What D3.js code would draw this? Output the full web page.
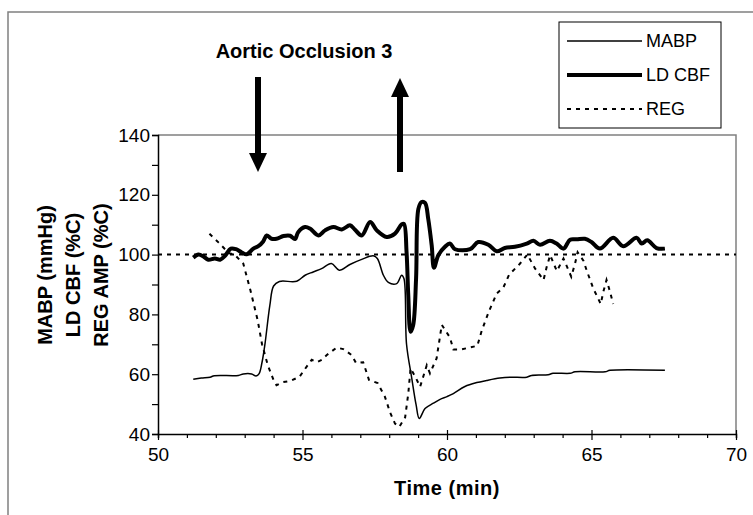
<!DOCTYPE html>
<html>
<head>
<meta charset="utf-8">
<script src="https://cdn.jsdelivr.net/npm/d3@7"></script>
<style>
body { margin: 0; background: #fff; }
text { font-family: "Liberation Sans", Arial, sans-serif; }
</style>
</head>
<body>
<div class="chart"></div>
<script>
// data
var mabp = [[51.22,58.3],[51.5,58.7],[51.8,59],[51.95,59.5],[52.78,59.6],[52.95,60.1],[53.24,60.1],[53.39,59.4],[53.5,60.2],[53.6,64],[53.7,70],[53.87,83],[54.0,89.5],[54.2,91],[54.8,91.1],[55.09,93.1],[55.37,94.2],[55.66,95.3],[56.0,97],[56.27,94.8],[56.64,96.7],[57.05,98.4],[57.45,99.6],[57.59,98.7],[57.8,93.1],[57.97,90.7],[58.26,90.3],[58.43,93.1],[58.51,92],[58.6,70],[58.78,58.7],[58.93,49.8],[59.04,45.2],[59.24,48.5],[59.53,50.3],[59.76,51.6],[60.0,52.5],[60.22,53.5],[60.62,55.9],[61.03,57.2],[61.37,57.9],[61.83,58.7],[62.18,59],[62.76,59],[62.93,59.6],[63.5,59.8],[63.67,60.3],[64.26,60.3],[64.43,60.8],[65.47,60.8],[65.64,61.3],[67.54,61.3]]

var ldcbf = [[51.22,99],[51.4,100],[51.57,99.4],[51.74,98.3],[51.97,98.7],[52.15,98.3],[52.32,99.6],[52.52,102],[52.7,101.8],[52.9,100.7],[53.07,100.1],[53.3,102],[53.47,102.8],[53.64,104.4],[53.76,106.4],[53.93,105.3],[54.1,105.3],[54.34,106.2],[54.57,106.3],[54.74,105.2],[54.85,107.5],[55.09,109.2],[55.26,108.7],[55.55,106.4],[55.78,108.1],[56.07,109.2],[56.36,108.4],[56.64,109.8],[56.8,108.5],[57.05,106.4],[57.34,110.9],[57.57,108.1],[57.91,105.9],[58.2,107],[58.43,110.1],[58.51,110.3],[58.6,100.9],[58.66,86.4],[58.74,74.2],[58.83,76.4],[58.93,92],[59.01,115.3],[59.12,117.6],[59.24,117.3],[59.35,112],[59.47,103.1],[59.55,95.6],[59.7,99.8],[59.93,102.6],[60.1,103.7],[60.28,101.8],[60.8,101.8],[61.08,104.2],[61.43,103.3],[61.72,101.1],[62.0,102.2],[62.35,102.6],[62.76,103.7],[62.99,104.6],[63.22,103.3],[63.56,104.6],[63.79,103.7],[64.03,102],[64.26,105],[64.49,105.1],[64.77,105.3],[65.0,104.2],[65.29,102],[65.75,105.6],[66.1,102.8],[66.56,105.6],[66.74,103.7],[66.93,104.8],[67.25,102.2],[67.54,102]]

var reg = [[51.78,107],[52.1,104],[52.45,100.5],[52.65,100],[52.95,97],[53.2,88],[53.45,78],[53.6,70],[53.8,63],[54.0,58],[54.1,56.3],[54.3,57.3],[54.6,57.8],[54.9,59.2],[55.15,62.6],[55.32,64.8],[55.5,64],[55.67,64.8],[55.84,66.4],[56.18,68.9],[56.41,68.4],[56.7,66.4],[56.85,63.8],[57.1,64],[57.3,58.1],[57.6,57],[57.85,52.5],[58.03,47.2],[58.2,43.5],[58.35,42.4],[58.55,45.5],[58.66,53.5],[58.74,62],[58.93,58.6],[59.07,55.8],[59.3,63],[59.41,60.3],[59.64,65.3],[59.82,76.5],[60.1,72.3],[60.22,68.3],[60.5,68.3],[61.05,69.5],[61.2,74.5],[61.45,81],[61.72,87],[61.95,89],[62.15,93.3],[62.5,96.7],[62.78,100],[63.05,95.3],[63.34,91.5],[63.45,95.9],[63.57,99.8],[63.8,94.5],[64.03,98.7],[64.3,92.6],[64.43,97],[64.52,100.8],[64.72,98],[64.83,94.8],[65.06,88.7],[65.32,83.5],[65.41,87.6],[65.52,91.5],[65.64,87.6],[65.75,83.5]]

var baseline = 100
var xTicks = [50, 55, 60, 65, 70]
var yTicks = [40, 60, 80, 100, 120, 140]
var legendNames = ["MABP", "LD CBF", "REG"]

var W = 753, H = 515
var pLeft = 158, pRight = 736, pTop = 135, pBottom = 434

var svg = d3.select(".chart").append("svg").attr("width", W).attr("height", H)

// outer chart border (runs off the picture)
svg.append("rect").attr("x", 8).attr("y", 12).attr("width", W).attr("height", H)
    .attr("fill", "none").attr("stroke", "#808080").attr("stroke-width", 1.5)

var x = d3.scaleLinear().domain([50, 70]).range([pLeft, pRight])
var y = d3.scaleLinear().domain([40, 140]).range([pBottom, pTop])

// plot area border, top and right
svg.append("path").attr("d", "M" + pLeft + "," + pTop + "H" + pRight + "V" + pBottom)
    .attr("fill", "none").attr("stroke", "#808080").attr("stroke-width", 1.5)

// axes
var yAxis = d3.axisLeft(y).tickValues(d3.range(40, 141, 10)).tickSize(6)
    .tickFormat(function(d){ return yTicks.indexOf(d) >= 0 ? d : "" })
var gy = svg.append("g").attr("transform", "translate(" + pLeft + ",0)").call(yAxis)

var xAxis = d3.axisBottom(x).tickValues(d3.range(50, 71, 1)).tickSize(4)
    .tickFormat(function(d){ return xTicks.indexOf(d) >= 0 ? d : "" })
var gx = svg.append("g").attr("transform", "translate(0," + pBottom + ")").call(xAxis)
gx.selectAll(".tick line").filter(function(d){ return xTicks.indexOf(d) >= 0 })
    .attr("y1", -4).attr("y2", 6)

svg.selectAll(".domain").attr("stroke", "#000").attr("stroke-width", 1.5)
svg.selectAll(".tick line").attr("stroke", "#000").attr("stroke-width", 1.2)
gy.selectAll("text").attr("font-size", "19px").attr("font-family", "Liberation Sans").attr("fill", "#000").attr("x", -8)
gx.selectAll("text").attr("font-size", "19px").attr("font-family", "Liberation Sans").attr("fill", "#000").attr("y", 14)

// 100 % reference line
svg.append("line").attr("x1", x(50)).attr("x2", x(70)).attr("y1", y(baseline)).attr("y2", y(baseline))
    .attr("stroke", "#000").attr("stroke-width", 2).attr("stroke-dasharray", "4,5")

// series
var smooth = d3.line().x(function(d){ return x(d[0]) }).y(function(d){ return y(d[1]) })
    .curve(d3.curveCatmullRom.alpha(0.5))
var straight = d3.line().x(function(d){ return x(d[0]) }).y(function(d){ return y(d[1]) })

svg.append("path").attr("d", straight(reg)).attr("fill", "none")
    .attr("stroke", "#000").attr("stroke-width", 2).attr("stroke-dasharray", "4,5")
svg.append("path").attr("d", smooth(mabp)).attr("fill", "none")
    .attr("stroke", "#000").attr("stroke-width", 1.5)
svg.append("path").attr("d", smooth(ldcbf)).attr("fill", "none")
    .attr("stroke", "#000").attr("stroke-width", 4).attr("stroke-linejoin", "round")

// axis titles
svg.append("text").attr("x", (pLeft + pRight) / 2).attr("y", 495).attr("text-anchor", "middle")
    .attr("font-size", "20px").attr("font-weight", "bold").attr("letter-spacing", "0.5px").text("Time (min)")

var yTitles = ["MABP (mmHg)", "LD CBF (%C)", "REG AMP (%C)"]
svg.selectAll(".ytitle").data(yTitles).enter().append("text")
    .attr("transform", function(d, i){ return "translate(" + (52 + i * 28) + ",275) rotate(-90)" })
    .attr("text-anchor", "middle").attr("font-size", "20px").attr("font-weight", "bold")
    .text(function(d){ return d })

// title and arrows
svg.append("text").attr("x", 304).attr("y", 58).attr("text-anchor", "middle")
    .attr("font-size", "20px").attr("font-weight", "bold").text("Aortic Occlusion 3")

// down arrow at start of occlusion, up arrow at release
svg.append("rect").attr("x", 255).attr("y", 77).attr("width", 6).attr("height", 78).attr("fill", "#000")
svg.append("path").attr("d", "M249,153 L267,153 L258,172 Z").attr("fill", "#000")
svg.append("rect").attr("x", 397).attr("y", 95).attr("width", 6).attr("height", 77).attr("fill", "#000")
svg.append("path").attr("d", "M391,97 L409,97 L400,78 Z").attr("fill", "#000")

// legend
var lg = svg.append("g")
lg.append("rect").attr("x", 559).attr("y", 22).attr("width", 162).attr("height", 106)
    .attr("fill", "#fff").attr("stroke", "#000").attr("stroke-width", 1)
var legendStyle = [{w: 1.5, dash: null}, {w: 4, dash: null}, {w: 2, dash: "4,5"}]
legendNames.forEach(function(name, i){
    var ly = 41 + i * 34
    lg.append("line").attr("x1", 567).attr("x2", 642).attr("y1", ly).attr("y2", ly)
        .attr("stroke", "#000").attr("stroke-width", legendStyle[i].w)
        .attr("stroke-dasharray", legendStyle[i].dash)
    lg.append("text").attr("x", 646).attr("y", ly + 6).attr("font-size", "18px").text(name)
})
</script>
</body>
</html>
